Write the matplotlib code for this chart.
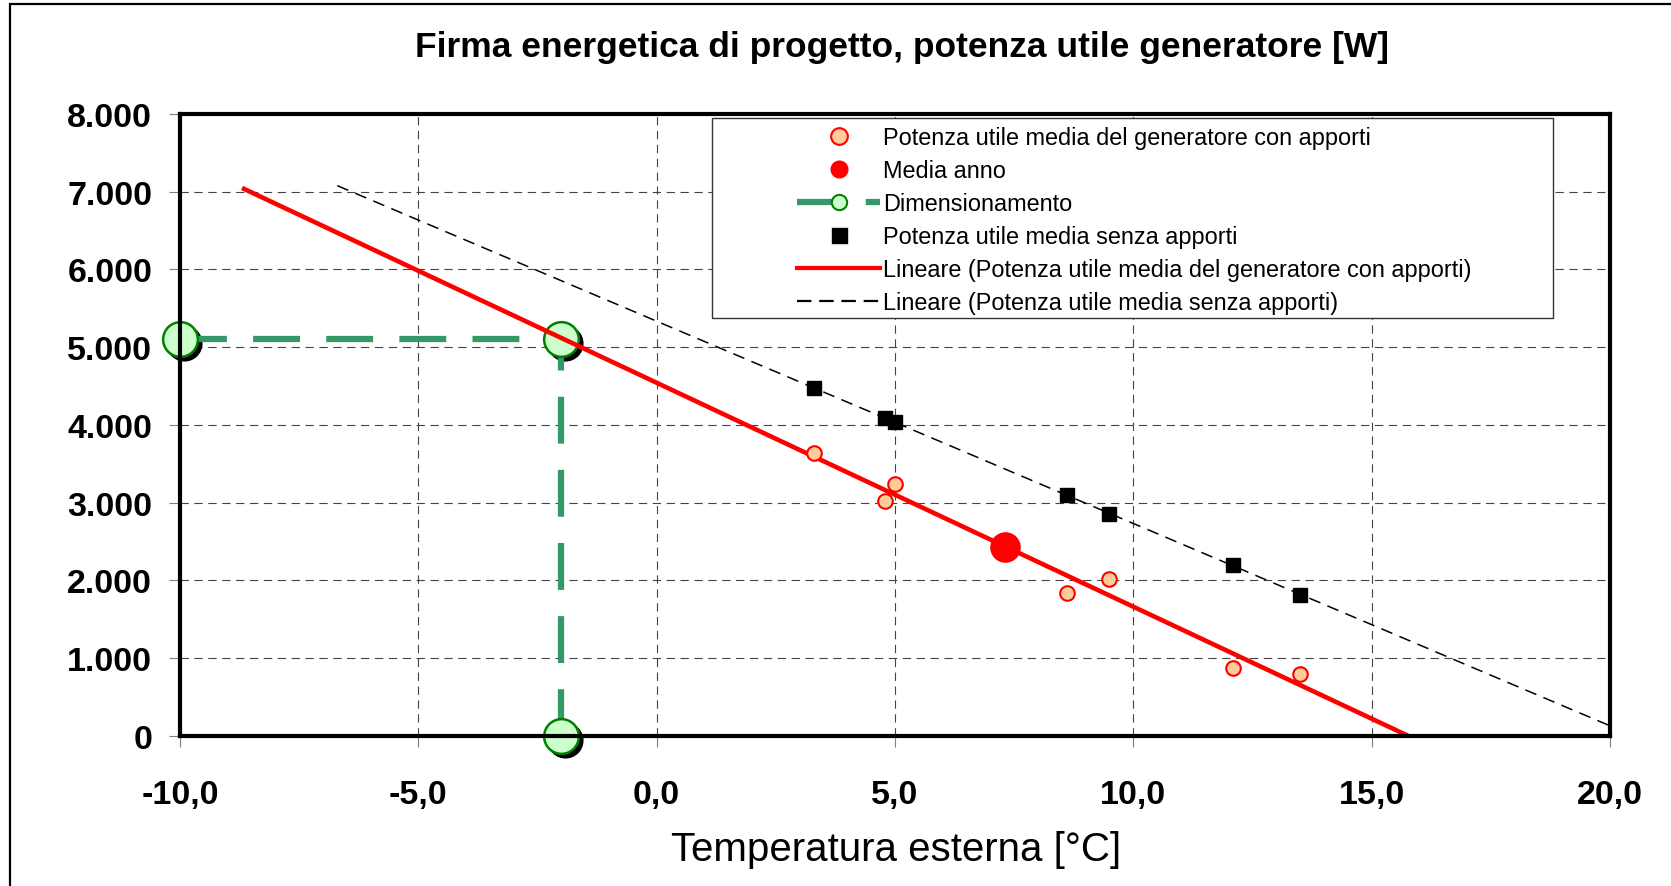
import numpy as np
import matplotlib
matplotlib.use("Agg")
import matplotlib.pyplot as plt
from matplotlib.lines import Line2D
from matplotlib.patches import Rectangle
from matplotlib import transforms

plt.rcParams['font.family'] = ['Liberation Sans', 'DejaVu Sans']

# ---------------- data ----------------
title = "Firma energetica di progetto, potenza utile generatore [W]"
xlabel = "Temperatura esterna [°C]"

temp_month = [3.3, 4.8, 5.0, 8.6, 9.5, 12.1, 13.5]
p_con_apporti = [3640, 3020, 3240, 1840, 2010, 875, 790]
p_senza_apporti = [4470, 4085, 4035, 3095, 2855, 2195, 1810]

media_T = [7.3]
media_P = [2430]

design_T = -2.0
design_P = 5100

red_trend_span = [-8.7, 20.0]
black_trend_span = [-6.7, 20.0]

x_ticks = [-10, -5, 0, 5, 10, 15, 20]
x_tick_labels = ['-10,0', '-5,0', '0,0', '5,0', '10,0', '15,0', '20,0']
y_ticks = [0, 1000, 2000, 3000, 4000, 5000, 6000, 7000, 8000]
y_tick_labels = ['0', '1.000', '2.000', '3.000', '4.000', '5.000', '6.000', '7.000', '8.000']

labels = ["Potenza utile media del generatore con apporti",
          "Media anno",
          "Dimensionamento",
          "Potenza utile media senza apporti",
          "Lineare (Potenza utile media del generatore con apporti)",
          "Lineare (Potenza utile media senza apporti)"]

# ---------------- figure ----------------
W, H = 1671, 887
fig = plt.figure(figsize=(W / 100, H / 100), dpi=100)
ax = fig.add_axes([180 / W, 1 - 736.6 / H, 1430 / W, 621.6 / H])
ax.set_xlim(x_ticks[0], x_ticks[-1])
ax.set_ylim(y_ticks[0], y_ticks[-1])

# outer chart frame
fig.add_artist(Rectangle((10 / W, -0.2), 1.2, 1.2 - 5 / H,
                         transform=fig.transFigure, fill=False,
                         edgecolor='black', lw=1.6))

# grid
ax.set_axisbelow(True)
ax.grid(True, color='#444444', lw=0.8, linestyle=(0, (7.5, 5)))

green = '#339966'
# design (Dimensionamento) series
dims_x = [x_ticks[0], design_T, design_T]
dims_y = [design_P, design_P, y_ticks[0]]
shadow_tr = transforms.offset_copy(ax.transData, fig=fig, x=4, y=-4, units='dots')
ax.plot(dims_x, dims_y, ls='none', marker='o', ms=25, color='black',
        transform=shadow_tr, clip_on=False, zorder=2)
ax.plot(dims_x, dims_y, color=green, lw=4.5, linestyle=(0, (7.5, 4.2)),
        marker='o', ms=25, mfc='#CCFFCC', mec='#008000', mew=1.8,
        clip_on=False, zorder=2.1, dash_capstyle='butt')

# trend lines via least squares
T = np.array(temp_month)
k_r, q_r = np.polyfit(T, np.array(p_con_apporti), 1)
k_b, q_b = np.polyfit(T, np.array(p_senza_apporti), 1)
xr = np.array(red_trend_span)
xb = np.array(black_trend_span)
ax.plot(xr, k_r * xr + q_r, color='red', lw=3.3, zorder=3, solid_capstyle='butt')
ax.plot(xb, k_b * xb + q_b, color='black', lw=1.1, linestyle=(0, (7.8, 5)), zorder=3)

# data markers
ax.plot(temp_month, p_con_apporti, ls='none', marker='o', ms=10.5,
        mfc='#FFCC99', mec='red', mew=1.5, zorder=4)
ax.plot(temp_month, p_senza_apporti, ls='none', marker='s', ms=10.2,
        color='black', zorder=4)
ax.plot(media_T, media_P, ls='none', marker='o', ms=21, color='red', zorder=4.5)

# axes styling
for s in ax.spines.values():
    s.set_linewidth(3)
    s.set_color('black')
    s.set_zorder(5)
ax.set_xticks(x_ticks)
ax.set_xticklabels(x_tick_labels, fontweight='bold', fontsize=24.5)
ax.set_yticks(y_ticks)
ax.set_yticklabels(y_tick_labels, fontweight='bold', fontsize=24.5)
ax.tick_params(axis='both', direction='out', length=8, width=0.8, color='#808080')
ax.tick_params(axis='y', pad=12)
ax.tick_params(axis='x', pad=23)

# title and x label
fig.text(902 / W, 1 - 47 / H, title, ha='center', va='center',
         fontsize=25.5, fontweight='bold')
fig.text(896 / W, 1 - 850 / H, xlabel, ha='center', va='center', fontsize=29)

# legend
handles = [
    Line2D([], [], ls='none', marker='o', ms=12, mfc='#FFCC99', mec='red', mew=1.5),
    Line2D([], [], ls='none', marker='o', ms=12, color='red'),
    Line2D([], [], color=green, lw=4.5, linestyle=(0, (7, 4)), marker='o', ms=11,
           mfc='#CCFFCC', mec='#008000', mew=1.5),
    Line2D([], [], ls='none', marker='s', ms=10.8, color='black'),
    Line2D([], [], color='red', lw=3.0),
    Line2D([], [], color='black', lw=1.6, linestyle=(0, (6.5, 3.5))),
]
ax.add_patch(Rectangle((0.372, 0.672), 0.588, 0.3218, transform=ax.transAxes,
                       facecolor='white', edgecolor='#333333', lw=1.0,
                       zorder=6, clip_on=False))
leg = ax.legend(handles, labels, loc='upper left', bbox_to_anchor=(0.4315, 0.9800),
                frameon=False, borderpad=0, borderaxespad=0, handlelength=3.55,
                handletextpad=0.13, labelspacing=0.42, numpoints=1,
                prop={'size': 16.9})
leg.set_zorder(7)

fig.savefig('out.png', dpi=100)
